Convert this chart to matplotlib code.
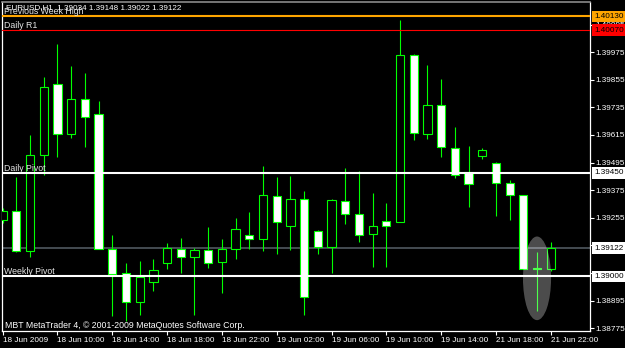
import matplotlib
matplotlib.use('Agg')
import matplotlib.pyplot as plt
import matplotlib.transforms as mtransforms
from matplotlib.patches import Rectangle, Ellipse

plt.rcParams['font.family'] = ['Liberation Sans', 'DejaVu Sans']

header = 'EURUSD,H1  1.39034 1.39148 1.39022 1.39122'
footer = 'MBT MetaTrader 4, \u00a9 2001-2009 MetaQuotes Software Corp.'

# H1 bars, 18 Jun 06:00 .. 21 Jun 22:00
opens = [1.39246, 1.39286, 1.39111, 1.39527, 1.39836, 1.39618, 1.39772, 1.39705, 1.39120, 1.39015,
         1.38888, 1.38977, 1.39060, 1.39120, 1.39086, 1.39115, 1.39064, 1.39120, 1.39179, 1.39162,
         1.39349, 1.39221, 1.39336, 1.39197, 1.39127, 1.39328, 1.39270, 1.39183, 1.39240, 1.39238,
         1.39963, 1.39618, 1.39746, 1.39560, 1.39456, 1.39523, 1.39495, 1.39408, 1.39354, 1.39036,
         1.39034]
highs = [1.39298, 1.39431, 1.39615, 1.39866, 1.40011, 1.39915, 1.39886, 1.39763, 1.39180, 1.39059,
         1.39067, 1.39076, 1.39147, 1.39167, 1.39124, 1.39215, 1.39163, 1.39254, 1.39279, 1.39480,
         1.39431, 1.39436, 1.39372, 1.39203, 1.39337, 1.39473, 1.39459, 1.39363, 1.39321, 1.40115,
         1.39966, 1.39920, 1.39859, 1.39650, 1.39569, 1.39559, 1.39497, 1.39420, 1.39356, 1.39105,
         1.39148]
lows = [1.39233, 1.39107, 1.39086, 1.39440, 1.39521, 1.39603, 1.39564, 1.39119, 1.38828, 1.38808,
        1.38834, 1.38938, 1.39034, 1.39014, 1.38834, 1.39038, 1.38930, 1.39077, 1.39120, 1.39112,
        1.39097, 1.39115, 1.38834, 1.39097, 1.39014, 1.39227, 1.39151, 1.39040, 1.39043, 1.39235,
        1.39593, 1.39597, 1.39521, 1.39430, 1.39303, 1.39510, 1.39264, 1.39246, 1.39031, 1.38849,
        1.39022]
closes = [1.39286, 1.39111, 1.39527, 1.39823, 1.39620, 1.39773, 1.39695, 1.39121, 1.39012, 1.38888,
          1.38999, 1.39028, 1.39124, 1.39086, 1.39115, 1.39060, 1.39120, 1.39205, 1.39162, 1.39353,
          1.39236, 1.39336, 1.38912, 1.39127, 1.39333, 1.39270, 1.39179, 1.39221, 1.39221, 1.39963,
          1.39623, 1.39744, 1.39562, 1.39441, 1.39401, 1.39549, 1.39408, 1.39354, 1.39033, 1.39034,
          1.39122]

time_ticks = [0, 4, 8, 12, 16, 20, 24, 28, 32, 36, 40]
time_labels = ['18 Jun 2009', '18 Jun 10:00', '18 Jun 14:00', '18 Jun 18:00', '18 Jun 22:00',
               '19 Jun 02:00', '19 Jun 06:00', '19 Jun 10:00', '19 Jun 14:00', '21 Jun 18:00',
               '21 Jun 22:00']
price_ticks = [1.38775, 1.38895, 1.39015, 1.39135, 1.39255, 1.39375, 1.39495, 1.39615,
               1.39735, 1.39855, 1.39975, 1.40095]

level_names = ['Previous Week High', 'Daily R1', 'Daily Pivot', 'Weekly Pivot']
level_values = [1.40130, 1.40070, 1.39450, 1.39000]
level_colors = ['#FFA500', '#FF0000', 'white', 'white']
level_widths = [1.5, 0.8, 1.5, 1.5]
bid = 1.39122
marked_bar = 39

GREEN = '#00FF00'
FS = 5.9

fig = plt.figure(figsize=(6.25, 3.48), dpi=100, facecolor='black')
ax = fig.add_axes([2/625, 17/348, 587.5/625, 329/348], facecolor='black')
ax.set_xlim(-0.05, 42.83)
ax.set_ylim(1.38763, 1.40193)

# bid line sits under the bars
ax.axhline(bid, color='#505860', lw=1.2, zorder=2)

for i in range(len(opens)):
    o, h, l, c = opens[i], highs[i], lows[i], closes[i]
    ax.vlines(i, l, h, color=GREEN, lw=0.8, zorder=3)
    fill = 'white' if o > c else 'black'
    ax.add_patch(Rectangle((i - 0.3, min(o, c)), 0.6, abs(c - o),
                           fc=fill, ec=GREEN, lw=0.8, zorder=4))

trans = mtransforms.blended_transform_factory(ax.transAxes, ax.transData)
for name, v, col, lw in zip(level_names, level_values, level_colors, level_widths):
    ax.axhline(v, color=col, lw=lw, zorder=5)
    ax.text(0.004, v, name, transform=trans, color='#e6e6e6', fontsize=FS + 0.4,
            va='bottom', ha='left', zorder=6)

mid = (highs[marked_bar] + lows[marked_bar]) / 2
rng = highs[marked_bar] - lows[marked_bar]
ax.add_patch(Ellipse((marked_bar, mid + 0.00015), 2.05, rng * 1.42,
                     fc='white', ec='none', alpha=0.3, zorder=7))

for sp in ['left', 'right', 'bottom']:
    ax.spines[sp].set_color('white')
    ax.spines[sp].set_linewidth(0.9)
ax.spines['top'].set_color('#8a8a8a')
ax.spines['top'].set_linewidth(1.2)

ax.set_xticks(time_ticks)
ax.set_xticklabels(time_labels, ha='left')
ax.tick_params(axis='x', colors='white', length=3, width=0.8, pad=1.5, labelsize=FS)
ax.yaxis.tick_right()
ax.set_yticks(price_ticks)
ax.set_yticklabels(['%.5f' % p for p in price_ticks])
ax.tick_params(axis='y', colors='white', length=3, width=0.8, pad=1.5, labelsize=FS)

box_values = [1.40130, 1.40070, 1.39450, bid, 1.39000]
box_colors = ['#FFA500', '#FF0000', 'white', 'white', 'white']
for v, col in zip(box_values, box_colors):
    ax.annotate('%.5f' % v, xy=(1, v), xycoords=trans, xytext=(3.7, 0),
                textcoords='offset points', va='center', ha='left', fontsize=FS,
                color='black', annotation_clip=False,
                bbox=dict(boxstyle='square,pad=0.3', fc=col, ec='none'))

fig.text(6/625, 1 - 7.5/348, header, color='white', fontsize=FS, va='center', ha='left')
ax.text(3/587.5, 5.5/329, footer, transform=ax.transAxes, color='white', fontsize=FS + 0.4,
        va='center', ha='left')

fig.savefig('out.png', dpi=100, facecolor='black')
